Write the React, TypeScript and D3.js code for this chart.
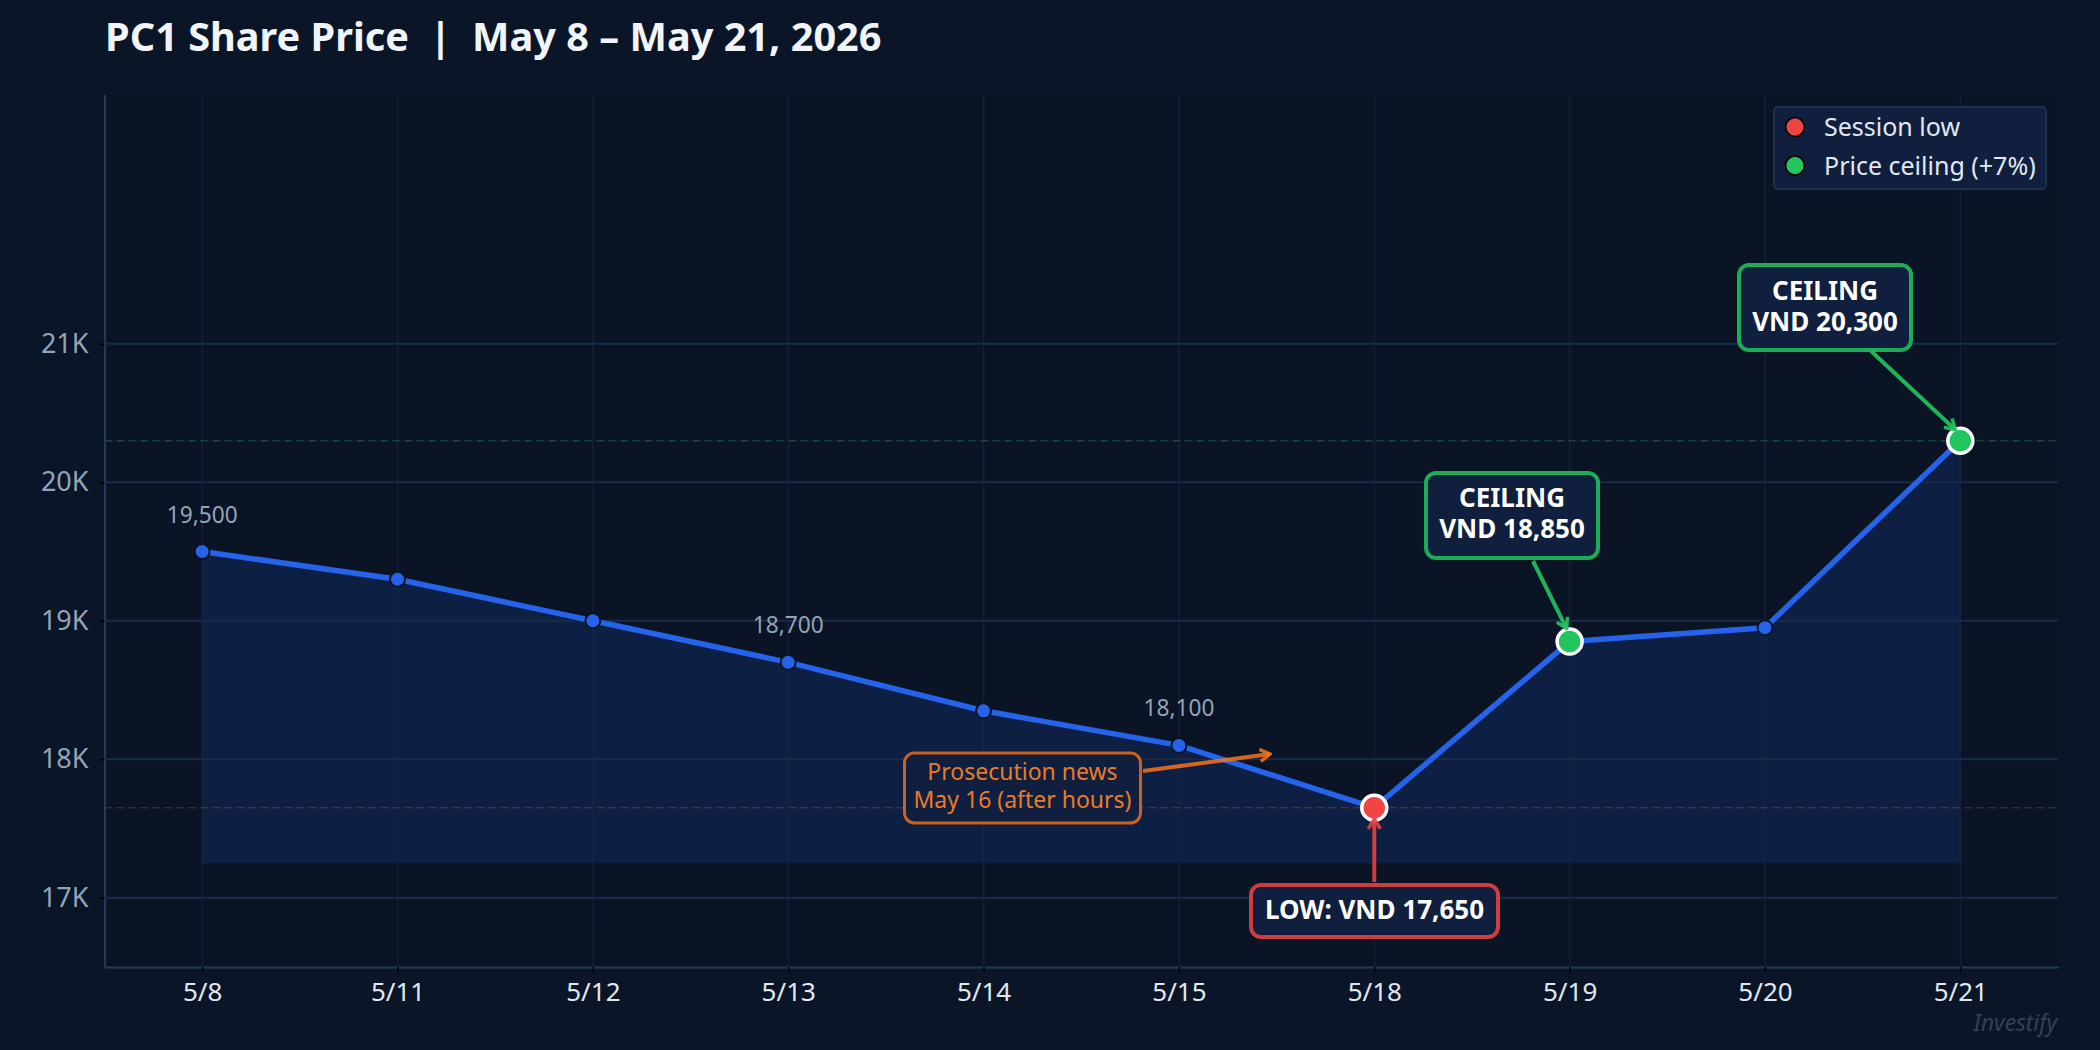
import * as d3 from 'd3';
import { useEffect, useRef } from 'react';

const days = ['5/8', '5/11', '5/12', '5/13', '5/14', '5/15', '5/18', '5/19', '5/20', '5/21'];
const prices = [19500, 19300, 19000, 18700, 18350, 18100, 17650, 18850, 18950, 20300];
const yTicks = [17000, 18000, 19000, 20000, 21000];
const labelled = ['5/8', '5/13', '5/15'];
const lowDay = '5/18';
const ceilingDays = ['5/19', '5/21'];
const areaFloor = 17250;
const lowPrice = 17650;
const ceilingPrice = 20300;

const FONT = '"Noto Sans", sans-serif';
const BG = '#0a1628';
const PANEL = '#0a1424';
const BOX = '#0f1f3d';
const BLUE = '#2563eb';
const RED = '#ef4444';
const GREEN = '#22c55e';
const ORANGE = '#f97316';

const width = 2100;
const height = 1050;
const margin = { top: 94.5, right: 42, bottom: 83, left: 104.5 };

export default function App() {
    const chartRef = useRef<SVGSVGElement | null>(null);

    useEffect(() => {
        if (!chartRef.current) return;
        const svg = d3.select(chartRef.current);
        svg.selectAll('*').remove();

        const x = d3
            .scalePoint<string>()
            .domain(days)
            .range([margin.left, width - margin.right])
            .padding(0.5);
        const y = d3
            .scaleLinear()
            .domain([16500, 22800])
            .range([height - margin.bottom, margin.top]);
        const rows = days.map((d, i) => ({ day: d, price: prices[i] }));
        const left = margin.left;
        const right = width - margin.right;
        const bottom = height - margin.bottom;

        svg.append('rect').attr('width', width).attr('height', height).attr('fill', BG);
        svg.append('rect')
            .attr('x', left)
            .attr('y', margin.top)
            .attr('width', right - left)
            .attr('height', bottom - margin.top)
            .attr('fill', PANEL);

        // markers for the annotation arrows
        const defs = svg.append('defs');
        [
            ['head-green', GREEN, 0.9],
            ['head-red', RED, 0.85],
            ['head-orange', ORANGE, 0.85],
        ].forEach(([id, color, op]) => {
            defs.append('marker')
                .attr('id', id as string)
                .attr('markerUnits', 'userSpaceOnUse')
                .attr('viewBox', '-14 -8 16 16')
                .attr('refX', 0)
                .attr('refY', 0)
                .attr('markerWidth', 16)
                .attr('markerHeight', 16)
                .attr('orient', 'auto')
                .append('path')
                .attr('d', 'M-10,-6 L0,0 L-10,6')
                .attr('fill', 'none')
                .attr('stroke', color as string)
                .attr('stroke-opacity', op as number)
                .attr('stroke-width', 3.5);
        });

        // area under the line
        const area = d3
            .area<{ day: string; price: number }>()
            .x((d) => x(d.day)!)
            .y0(y(areaFloor))
            .y1((d) => y(d.price));
        svg.append('path').datum(rows).attr('d', area).attr('fill', '#0d1f42');

        // grid
        svg.append('g')
            .selectAll('line')
            .data(yTicks)
            .join('line')
            .attr('x1', left)
            .attr('x2', right)
            .attr('y1', (d) => y(d))
            .attr('y2', (d) => y(d))
            .attr('stroke', '#1a2a4a')
            .attr('stroke-width', 2);
        svg.append('g')
            .selectAll('line')
            .data(days)
            .join('line')
            .attr('x1', (d) => x(d)!)
            .attr('x2', (d) => x(d)!)
            .attr('y1', margin.top)
            .attr('y2', bottom)
            .attr('stroke', '#1a2a4a')
            .attr('stroke-opacity', 0.6)
            .attr('stroke-width', 1.4);

        // reference lines
        svg.append('line')
            .attr('x1', left)
            .attr('x2', right)
            .attr('y1', y(ceilingPrice))
            .attr('y2', y(ceilingPrice))
            .attr('stroke', GREEN)
            .attr('stroke-opacity', 0.3)
            .attr('stroke-width', 1.7)
            .attr('stroke-dasharray', '8 4');
        svg.append('line')
            .attr('x1', left)
            .attr('x2', right)
            .attr('y1', y(lowPrice))
            .attr('y2', y(lowPrice))
            .attr('stroke', RED)
            .attr('stroke-opacity', 0.3)
            .attr('stroke-width', 1.7)
            .attr('stroke-dasharray', '8 4');

        // axes
        const xAxis = d3.axisBottom(x).tickSizeInner(5).tickSizeOuter(0).tickPadding(11);
        const gx = svg.append('g').attr('transform', `translate(0,${bottom})`).call(xAxis);
        gx.selectAll('text').attr('fill', '#e2e8f0').style('font-size', '26px').style('font-family', FONT);
        gx.selectAll('.tick line').attr('stroke', '#000').attr('stroke-width', 1.7);
        gx.select('.domain').attr('stroke', '#223a5e').attr('stroke-width', 2);

        const yAxis = d3
            .axisLeft(y)
            .tickValues(yTicks)
            .tickFormat((d) => `${+d / 1000}K`)
            .tickSizeInner(5)
            .tickSizeOuter(0)
            .tickPadding(11);
        const gy = svg.append('g').attr('transform', `translate(${left},0)`).call(yAxis);
        gy.selectAll('text').attr('fill', '#94a3b8').style('font-size', '27px').style('font-family', FONT);
        gy.selectAll('.tick line').attr('stroke', '#000').attr('stroke-width', 1.7);
        gy.select('.domain').attr('stroke', '#223a5e').attr('stroke-width', 2);

        // price line and points
        const line = d3
            .line<{ day: string; price: number }>()
            .x((d) => x(d.day)!)
            .y((d) => y(d.price));
        svg.append('path')
            .datum(rows)
            .attr('d', line)
            .attr('fill', 'none')
            .attr('stroke', BLUE)
            .attr('stroke-width', 5.5)
            .attr('stroke-linejoin', 'round');
        svg.append('g')
            .selectAll('circle')
            .data(rows)
            .join('circle')
            .attr('cx', (d) => x(d.day)!)
            .attr('cy', (d) => y(d.price))
            .attr('r', 7.5)
            .attr('fill', BLUE)
            .attr('stroke', PANEL)
            .attr('stroke-width', 2);

        // value labels
        svg.append('g')
            .selectAll('text')
            .data(rows.filter((d) => labelled.includes(d.day)))
            .join('text')
            .attr('x', (d) => x(d.day)!)
            .attr('y', (d) => y(d.price) - 29)
            .attr('text-anchor', 'middle')
            .attr('fill', '#94a3b8')
            .style('font-size', '22.7px')
            .style('font-family', FONT)
            .text((d) => d3.format(',')(d.price));

        // highlighted points
        const special = rows.filter((d) => d.day === lowDay || ceilingDays.includes(d.day));
        svg.append('g')
            .selectAll('circle')
            .data(special)
            .join('circle')
            .attr('cx', (d) => x(d.day)!)
            .attr('cy', (d) => y(d.price))
            .attr('r', 12.5)
            .attr('fill', (d) => (d.day === lowDay ? RED : GREEN))
            .attr('stroke', '#fff')
            .attr('stroke-width', 3.5);

        const arrow = (x1: number, y1: number, x2: number, y2: number, color: string, head: string, op: number) =>
            svg.append('line')
                .attr('x1', x1)
                .attr('y1', y1)
                .attr('x2', x2)
                .attr('y2', y2)
                .attr('stroke', color)
                .attr('stroke-opacity', op)
                .attr('stroke-width', 4)
                .attr('marker-end', `url(#${head})`);

        const callout = (
            bx: number,
            by: number,
            bw: number,
            bh: number,
            color: string,
            op: number,
            sw: number,
            lines: string[],
            baselines: number[],
            size: number,
            weight: number,
            textColor: string,
        ) => {
            svg.append('rect')
                .attr('x', bx)
                .attr('y', by)
                .attr('width', bw)
                .attr('height', bh)
                .attr('rx', 10)
                .attr('fill', BOX)
                .attr('stroke', color)
                .attr('stroke-opacity', op)
                .attr('stroke-width', sw);
            lines.forEach((t, i) => {
                svg.append('text')
                    .attr('x', bx + bw / 2)
                    .attr('y', baselines[i])
                    .attr('text-anchor', 'middle')
                    .attr('fill', textColor)
                    .style('font-size', `${size}px`)
                    .style('font-weight', weight)
                    .style('font-family', FONT)
                    .text(t);
            });
        };

        // annotations
        arrow(1533, 561, x('5/19')! - 3, y(18850) - 13, GREEN, 'head-green', 0.9);
        callout(1426, 473, 172, 85, GREEN, 0.85, 4, ['CEILING', 'VND 18,850'], [507, 538], 26, 700, '#fff');
        arrow(1871, 351, x('5/21')! - 5, y(20300) - 11, GREEN, 'head-green', 0.9);
        callout(1739, 265, 172, 85, GREEN, 0.85, 4, ['CEILING', 'VND 20,300'], [300, 331], 26, 700, '#fff');
        arrow(x(lowDay)!, 882, x(lowDay)!, y(lowPrice) + 11, RED, 'head-red', 0.85);
        callout(1251, 885, 247, 52, RED, 0.85, 4, ['LOW: VND 17,650'], [919], 26, 700, '#fff');
        arrow(1143, 771, 1270, 754, ORANGE, 'head-orange', 0.85);
        callout(904.5, 753, 236, 70, ORANGE, 0.8, 3, ['Prosecution news', 'May 16 (after hours)'], [780, 808], 23, 400, '#e87b2c');

        // legend
        svg.append('rect')
            .attr('x', 1774)
            .attr('y', 107)
            .attr('width', 272)
            .attr('height', 82)
            .attr('rx', 4)
            .attr('fill', BOX)
            .attr('stroke', '#1e3050')
            .attr('stroke-width', 2);
        [
            ['Session low', RED, 127],
            ['Price ceiling (+7%)', GREEN, 165.5],
        ].forEach(([label, color, cy]) => {
            svg.append('circle')
                .attr('cx', 1795)
                .attr('cy', cy as number)
                .attr('r', 9.5)
                .attr('fill', color as string)
                .attr('stroke', '#000')
                .attr('stroke-width', 1.7);
            svg.append('text')
                .attr('x', 1824)
                .attr('y', (cy as number) + 9)
                .attr('fill', '#e2e8f0')
                .style('font-size', '25px')
                .style('font-family', FONT)
                .text(label as string);
        });

        // title + watermark
        svg.append('text')
            .attr('x', 105)
            .attr('y', 51)
            .attr('fill', '#f1f5f9')
            .style('font-size', '39.7px')
            .style('font-weight', 700)
            .style('font-family', FONT)
            .style('white-space', 'pre')
            .text('PC1 Share Price  |  May 8 – May 21, 2026');
        svg.append('text')
            .attr('x', 2057)
            .attr('y', 1031)
            .attr('text-anchor', 'end')
            .attr('fill', '#334155')
            .style('font-size', '22.7px')
            .style('font-style', 'italic')
            .style('font-family', FONT)
            .text('Investify');
    }, []);

    return (
        <svg
            ref={chartRef}
            width={width}
            height={height}
            style={{ position: 'absolute', left: 0, top: 0, display: 'block' }}
        />
    );
}
